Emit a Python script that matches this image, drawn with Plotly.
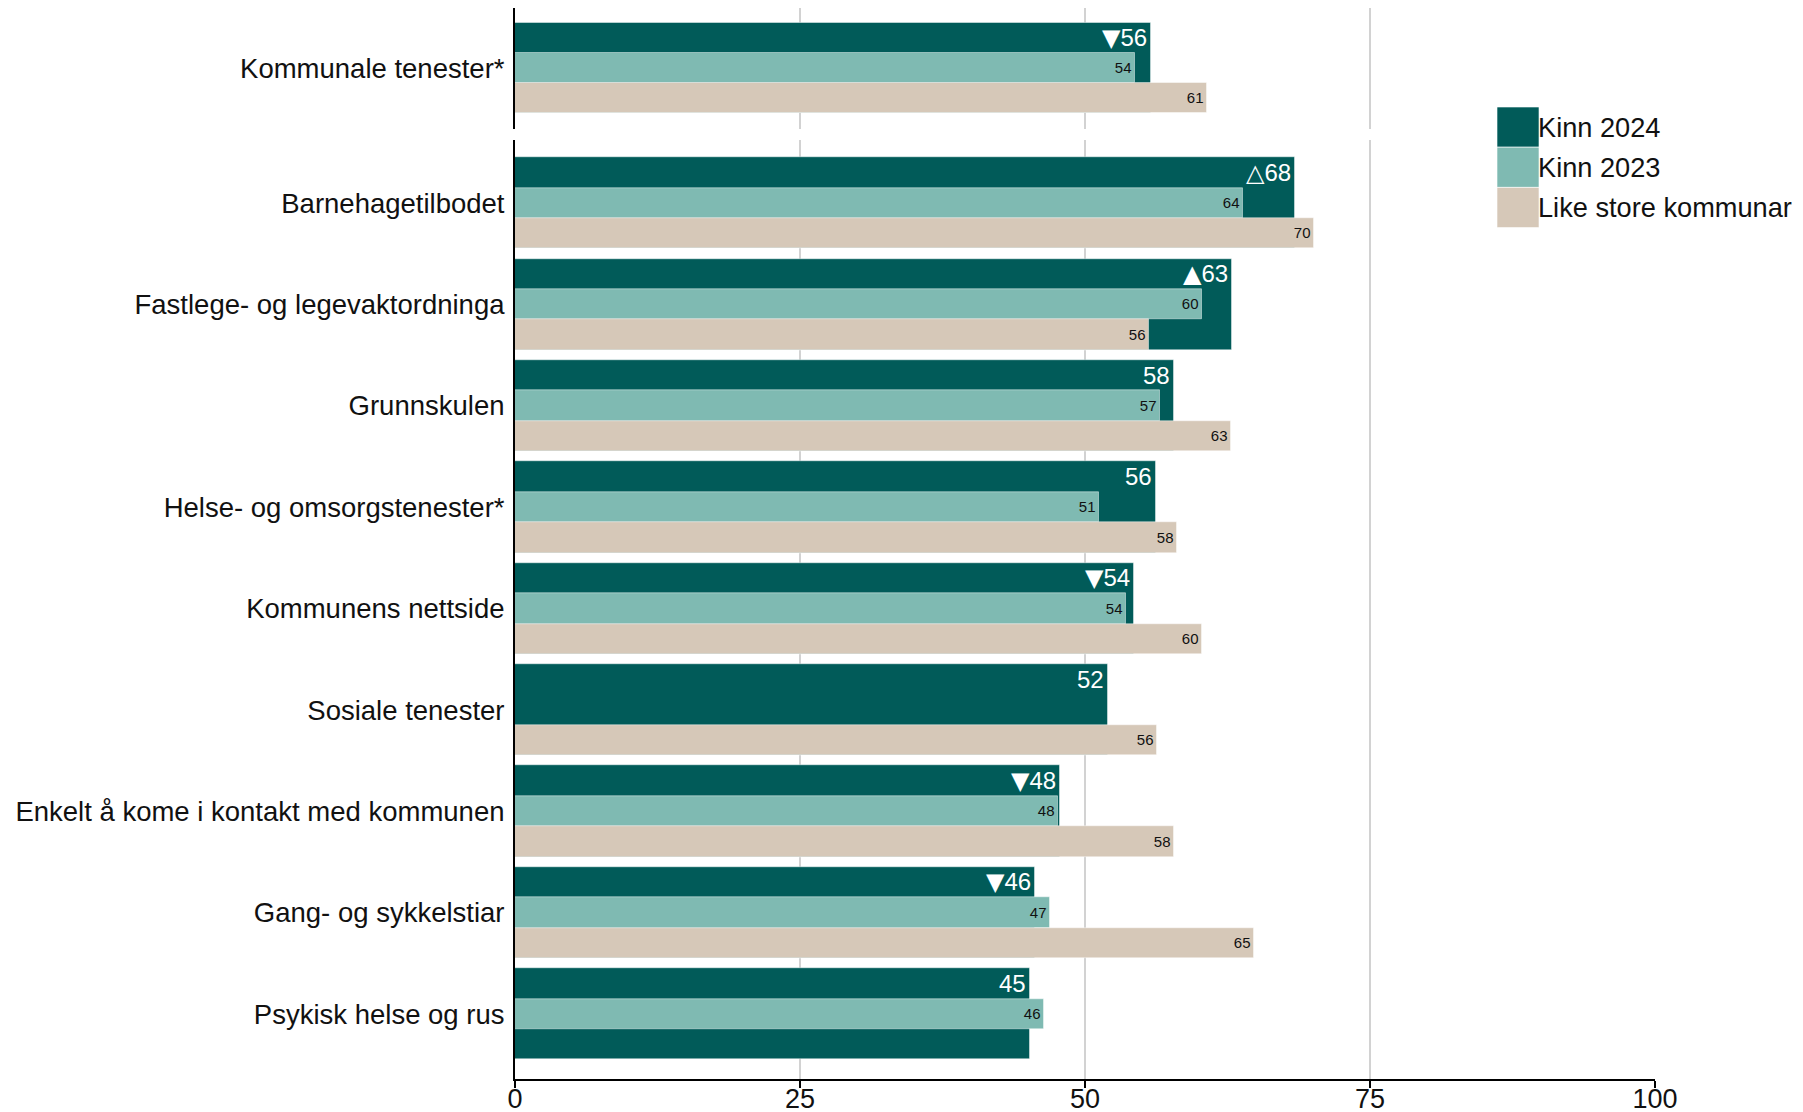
import plotly.graph_objects as go

categories = [
    "Kommunale tenester*",
    "Barnehagetilbodet",
    "Fastlege- og legevaktordninga",
    "Grunnskulen",
    "Helse- og omsorgstenester*",
    "Kommunens nettside",
    "Sosiale tenester",
    "Enkelt å kome i kontakt med kommunen",
    "Gang- og sykkelstiar",
    "Psykisk helse og rus",
]
kinn_2024 = [55.8, 68.4, 62.9, 57.8, 56.2, 54.3, 52.0, 47.8, 45.6, 45.2]
kinn_2023 = [54.4, 63.9, 60.3, 56.6, 51.2, 53.6, None, 47.6, 46.9, 46.4]
like_store = [60.7, 70.1, 55.6, 62.8, 58.1, 60.3, 56.3, 57.8, 64.8, None]
change_marks = ["▼", "△", "▲", "", "", "▼", "", "▼", "▼", ""]
series_names = ["Kinn 2024", "Kinn 2023", "Like store kommunar"]
x_ticks = [0, 25, 50, 75, 100]

colors = ["#015b59", "#7fbab2", "#d6c8b8"]
FONT = "Liberation Sans, Arial, Helvetica, sans-serif"
edge = dict(color="rgba(255,255,255,0.45)", width=1)

W, H = 1803, 1112
ML, MR, MT, MB = 507, 156, 0, 41
PW, PH = W - ML - MR, H - MT - MB


def lab(v):
    return "" if v is None else f"{int(v + 0.5)}"


def mark_text(i):
    m = change_marks[i]
    t = lab(kinn_2024[i])
    if m:
        return f'<span style="font-family:DejaVu Sans">{m}</span>{t}'
    return t


fig = go.Figure()
annotations = []
panels = [(0, 1, "x2", "y2"), (1, 10, "x", "y")]
for start, end, xa, ya in panels:
    idx = list(range(start, end))
    pos = [i - start for i in idx]
    d24 = [kinn_2024[i] for i in idx]
    d23 = [kinn_2023[i] for i in idx]
    dls = [like_store[i] for i in idx]
    fig.add_trace(go.Bar(orientation="h", x=d24, y=pos, width=0.9,
                         marker=dict(color=colors[0], line=edge),
                         name=series_names[0], xaxis=xa, yaxis=ya,
                         showlegend=False, hoverinfo="x+name"))
    fig.add_trace(go.Bar(orientation="h", x=d23, y=pos, width=0.3,
                         marker=dict(color=colors[1], line=edge),
                         text=[lab(v) for v in d23], textposition="inside",
                         insidetextanchor="end", textangle=0,
                         textfont=dict(color="#111111", size=15, family=FONT),
                         name=series_names[1], xaxis=xa, yaxis=ya,
                         showlegend=False, hoverinfo="x+name"))
    fig.add_trace(go.Bar(orientation="h", x=dls, y=[p + 0.3 for p in pos], width=0.3,
                         marker=dict(color=colors[2], line=edge),
                         text=[lab(v) for v in dls], textposition="inside",
                         insidetextanchor="end", textangle=0,
                         textfont=dict(color="#111111", size=15, family=FONT),
                         name=series_names[2], xaxis=xa, yaxis=ya,
                         showlegend=False, hoverinfo="x+name"))
    for i, p in zip(idx, pos):
        annotations.append(dict(x=kinn_2024[i], y=p - 0.3, xref=xa, yref=ya,
                                text=mark_text(i),
                                showarrow=False, xanchor="right", yanchor="middle",
                                xshift=-2, font=dict(color="white", size=24, family=FONT)))

# legend (custom, large swatches) - positions in figure pixels
leg_px0, leg_px1 = 1489, 1531
row_tops = [99, 139.2, 179.4]
row_h = 40.2
shapes = []
for k, name in enumerate(series_names):
    top = row_tops[k]
    y1 = (PH - (top - MT)) / PH
    y0 = (PH - (top - MT) - row_h) / PH
    x0 = (leg_px0 - ML) / PW
    x1 = (leg_px1 - ML) / PW
    shapes.append(dict(type="rect", xref="paper", yref="paper", x0=x0, x1=x1,
                       y0=y0, y1=y1, fillcolor=colors[k],
                       line=dict(color="rgba(255,255,255,0.6)", width=1), layer="above"))
    annotations.append(dict(x=x1, y=(y0 + y1) / 2, xref="paper", yref="paper",
                            text=name, showarrow=False, xanchor="left", yanchor="middle",
                            xshift=-3, font=dict(color="#111111", size=27.2, family=FONT)))

grid = dict(showgrid=True, gridcolor="#d2d2d2", gridwidth=2, zeroline=False)

fig.update_layout(
    width=W, height=H,
    margin=dict(l=ML, r=MR, t=MT, b=MB, autoexpand=False),
    barmode="overlay",
    bargap=0,
    plot_bgcolor="white", paper_bgcolor="white",
    font=dict(family=FONT, color="#111111"),
    xaxis=dict(range=[0, 100], tickvals=x_ticks, ticktext=[str(t) for t in x_ticks],
               anchor="y", showline=True, linecolor="black", linewidth=2,
               ticks="outside", ticklen=7, tickwidth=2, tickcolor="black",
               ticklabelstandoff=-12,
               tickfont=dict(size=27, family=FONT, color="#111111"), **grid),
    xaxis2=dict(range=[0, 100], tickvals=x_ticks, anchor="y2", matches="x",
                showticklabels=False, showline=False, ticks="", **grid),
    yaxis=dict(domain=[0, 0.8765], range=[8.64, -0.62], anchor="x",
               tickvals=list(range(9)), ticktext=categories[1:],
               showline=True, linecolor="black", linewidth=2, showgrid=False, zeroline=False,
               ticks="outside", ticklen=3, tickcolor="rgba(0,0,0,0)",
               tickfont=dict(size=27.5, family=FONT, color="#111111")),
    yaxis2=dict(domain=[0.8872, 1.0], range=[0.61, -0.6], anchor="x2",
                tickvals=[0], ticktext=categories[:1],
                showline=True, linecolor="black", linewidth=2, showgrid=False, zeroline=False,
                ticks="outside", ticklen=3, tickcolor="rgba(0,0,0,0)",
                tickfont=dict(size=27.5, family=FONT, color="#111111")),
    annotations=annotations,
    shapes=shapes,
    showlegend=False,
)

fig.write_html("out.html")
